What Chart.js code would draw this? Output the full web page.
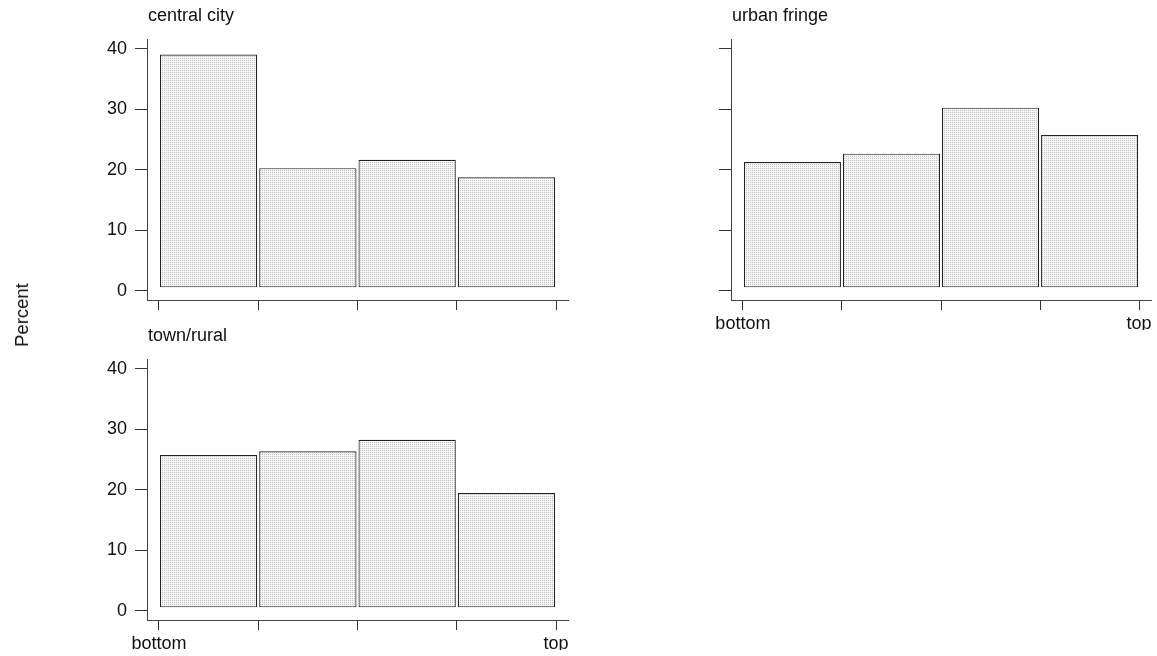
<!DOCTYPE html>
<html lang="en">
<head>
  <meta charset="UTF-8">
  <title>Percent by location</title>
  <style>
    body {
      margin: 0;
      background: #fff;
      width: 1157px;
      height: 656px;
      position: relative;
      overflow: hidden;
      font-family: "Liberation Sans", Arial, sans-serif;
    }
    canvas { position: absolute; }
    #c1 { left: 0; top: 0; }
    #c2 { left: 590px; top: 0; }
    #c3 { left: 0; top: 320px; }
    #ytitle {
      position: absolute;
      left: 22px;
      top: 315px;
      transform: translate(-50%, -50%) rotate(-90deg);
      font-size: 18.5px;
      color: #111;
      white-space: nowrap;
    }
  </style>
</head>
<body>
  <canvas id="c1" width="590" height="330"></canvas>
  <canvas id="c2" width="567" height="330"></canvas>
  <canvas id="c3" width="590" height="330"></canvas>
  <div id="ytitle">Percent</div>

  <script src="https://cdn.jsdelivr.net/npm/chart.js"></script>
  <script>
    // bin centres along the x axis (4 equal bins between bottom and top)
    const bins = [0.5, 1.5, 2.5, 3.5];
    const xTicks = [0, 1, 2, 3, 4];
    const xTickLabels = ['bottom', '', '', '', 'top'];
    const yTicks = [0, 10, 20, 30, 40];

    const centralCity = [39.1, 20.3, 21.7, 18.8];
    const urbanFringe = [21.3, 22.7, 30.3, 25.8];
    const townRural = [25.8, 26.4, 28.3, 19.5];

    const BAR_BASE = 0.6;
    const FONT = { family: '"Liberation Sans", Arial, sans-serif', size: 18 };

    Chart.defaults.font.family = FONT.family;
    Chart.defaults.color = '#111';

    function dotPattern(canvas) {
      const tile = document.createElement('canvas');
      tile.width = 2;
      tile.height = 2;
      const g = tile.getContext('2d');
      g.fillStyle = '#f6f6f6';
      g.fillRect(0, 0, 2, 2);
      g.fillStyle = '#c2c2c2';
      g.fillRect(0, 0, 1, 1);
      return canvas.getContext('2d').createPattern(tile, 'repeat');
    }

    const panelTitle = {
      id: 'panelTitle',
      afterDraw(chart, args, opts) {
        const { ctx, chartArea } = chart;
        ctx.save();
        ctx.font = FONT.size + 'px ' + FONT.family;
        ctx.fillStyle = '#111';
        ctx.textAlign = 'left';
        ctx.textBaseline = 'middle';
        ctx.fillText(opts.text, chartArea.left + 1, chartArea.top - 23);
        ctx.restore();
      }
    };

    function panel(id, title, values, showY, showX, yWidth, rightPad) {
      const canvas = document.getElementById(id);
      new Chart(canvas, {
        type: 'bar',
        data: {
          datasets: [{
            data: bins.map((b, i) => ({ x: b, y: values[i] })),
            backgroundColor: dotPattern(canvas),
            borderColor: '#222',
            borderWidth: 1.2,
            borderSkipped: false,
            barPercentage: 0.98,
            categoryPercentage: 1,
            base: BAR_BASE
          }]
        },
        options: {
          responsive: false,
          animation: false,
          devicePixelRatio: 1,
          layout: { padding: { top: 39, right: rightPad, left: 0, bottom: 0 } },
          plugins: {
            legend: { display: false },
            tooltip: { enabled: false },
            panelTitle: { text: title }
          },
          scales: {
            x: {
              type: 'linear',
              offset: false,
              min: -0.12,
              max: 4.12,
              afterBuildTicks: s => { s.ticks = xTicks.map(v => ({ value: v })); },
              afterFit: s => { s.height = 30; },
              grid: { offset: false, drawOnChartArea: false, tickLength: 10, color: '#333' },
              border: { color: '#444', width: 1 },
              ticks: {
                autoSkip: false,
                maxRotation: 0,
                padding: 3,
                font: FONT,
                color: '#111',
                callback: v => showX ? xTickLabels[xTicks.indexOf(v)] : ''
              }
            },
            y: {
              min: -1.49,
              max: 41.65,
              afterBuildTicks: s => { s.ticks = yTicks.map(v => ({ value: v })); },
              afterFit: s => { s.width = yWidth; },
              grid: { drawOnChartArea: false, tickLength: 12, color: '#333' },
              border: { color: '#444', width: 1 },
              ticks: {
                padding: 8,
                font: FONT,
                color: '#111',
                callback: v => showY ? String(v) : ''
              }
            }
          }
        },
        plugins: [panelTitle]
      });
    }

    panel('c1', 'central city', centralCity, true, false, 147, 22);
    panel('c2', 'urban fringe', urbanFringe, false, true, 141, 6);
    panel('c3', 'town/rural', townRural, true, true, 147, 22);
  </script>
</body>
</html>
